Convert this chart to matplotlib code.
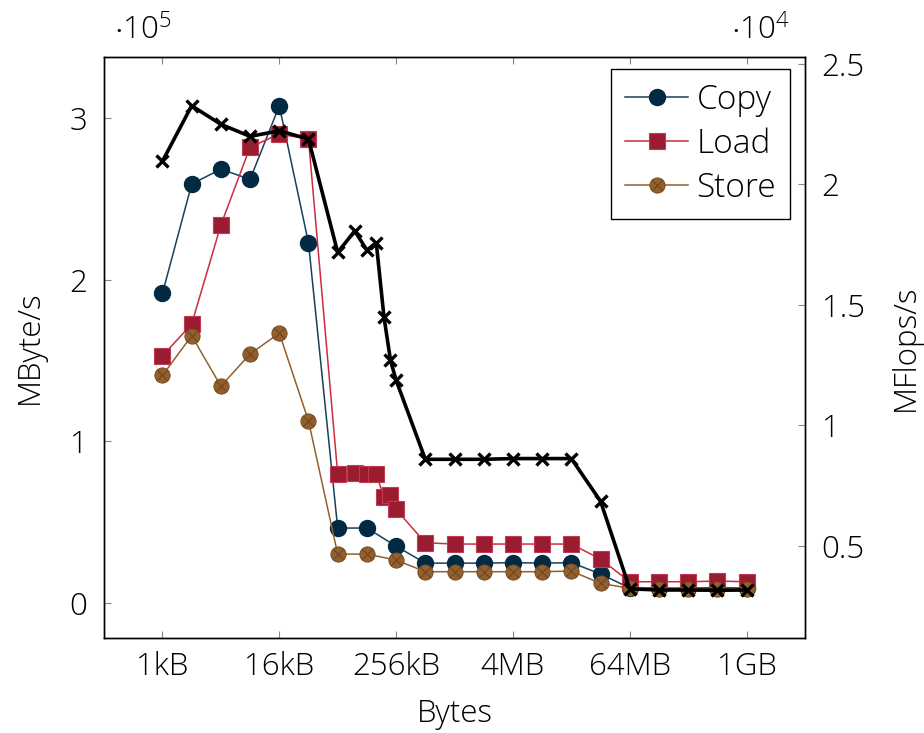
import numpy as np
import matplotlib
matplotlib.use("Agg")
import matplotlib.pyplot as plt
from matplotlib.ticker import FixedLocator, FuncFormatter, NullLocator
from matplotlib.legend_handler import HandlerTuple

plt.rcParams['font.family'] = ['Open Sans', 'DejaVu Sans']
plt.rcParams['font.weight'] = 'light'
plt.rcParams['axes.labelweight'] = 'light'
plt.rcParams['mathtext.fontset'] = 'custom'
plt.rcParams['mathtext.rm'] = 'Open Sans:light'
plt.rcParams['mathtext.it'] = 'Open Sans:light'

# %% data
kB = 1024
pow2_sizes = [kB * 2**i for i in range(21)]          # 1kB .. 1GB
fine_sizes = [1, 2, 4, 8, 16, 32, 64, 96, 128, 160, 192, 224, 256]
fine_sizes = [s * kB for s in fine_sizes] + [kB * 2**i for i in range(9, 21)]

copy_bw = np.array([1.915, 2.591, 2.684, 2.620, 3.075, 2.228, 0.464, 0.464, 0.352,
                    0.247, 0.247, 0.247, 0.250, 0.247, 0.250, 0.180,
                    0.093, 0.093, 0.093, 0.095, 0.093]) * 1e5
store_bw = np.array([1.408, 1.653, 1.342, 1.540, 1.670, 1.127, 0.303, 0.303, 0.266,
                     0.194, 0.194, 0.194, 0.194, 0.194, 0.198, 0.122,
                     0.091, 0.087, 0.087, 0.087, 0.087]) * 1e5
load_bw = np.array([1.529, 1.725, 2.338, 2.820, 2.900, 2.870, 0.798, 0.802, 0.798,
                    0.798, 0.654, 0.668, 0.579, 0.373, 0.365, 0.365, 0.365, 0.365,
                    0.365, 0.272, 0.132, 0.132, 0.132, 0.136, 0.132]) * 1e5
mflops = np.array([2.095, 2.325, 2.248, 2.198, 2.221, 2.187, 1.717, 1.806, 1.726,
                   1.756, 1.449, 1.270, 1.187, 0.859, 0.859, 0.859, 0.862, 0.862,
                   0.862, 0.685, 0.322, 0.317, 0.317, 0.316, 0.317]) * 1e4

xtick_pos = [kB * 2**i for i in range(0, 21, 4)]
xtick_lab = ['1kB', '16kB', '256kB', '4MB', '64MB', '1GB']

# %% plot
fig = plt.figure(figsize=(9.24, 7.33), dpi=100)
ax = fig.add_axes([0.1126, 0.1296, 0.7586, 0.7926])
ax2 = ax.twinx()

navy = '#022a43'
red_fill, red_line = '#9b1b30', '#cc2a45'
brown_fill, brown_line = '#93602d', '#6e4520'
fs = 22.5

h_copy, = ax.plot(pow2_sizes, copy_bw, color='#16405c', lw=1.1, marker='o', ms=11.5,
                  mfc=navy, mec=navy)
h_load, = ax.plot(fine_sizes, load_bw, color=red_line, lw=1.1, marker='s', ms=11,
                  mfc=red_fill, mec='#c23a52', mew=0.8)
h_store, = ax.plot(pow2_sizes, store_bw, color=brown_fill, lw=1.1, marker='o', ms=11,
                   mfc=brown_fill, mec=brown_line, mew=0.6)
h_store_x, = ax.plot(pow2_sizes, store_bw, ls='none', marker='x', ms=7.5,
                     mec=brown_line, mew=0.8)

ax2.plot(fine_sizes, mflops, color='black', lw=2.6, marker='x', ms=9, mew=2.4)

ax.set_xscale('log', base=2)
ax.set_xlim(2**8, 2**32)
ax.xaxis.set_major_locator(FixedLocator(xtick_pos))
ax.xaxis.set_minor_locator(NullLocator())
ax.set_xticklabels(xtick_lab)

ax.set_ylim(-0.216e5, 3.377e5)
ax.set_yticks([0, 1e5, 2e5, 3e5])
ax.yaxis.set_major_formatter(FuncFormatter(lambda v, p: f'{v / 1e5:g}'))
ax2.set_ylim(0.118e4, 2.527e4)
ax2.set_yticks([0.5e4, 1e4, 1.5e4, 2e4, 2.5e4])
ax2.yaxis.set_major_formatter(FuncFormatter(lambda v, p: f'{v / 1e4:g}'))

ax.tick_params(axis='x', which='both', direction='in', top=True, length=5,
               color='#888888', labelsize=fs, pad=9)
ax.tick_params(axis='y', direction='in', length=5, color='#888888', labelsize=fs, pad=12)
ax2.tick_params(axis='y', direction='in', length=5, color='#888888', labelsize=fs, pad=12)
for a in (ax, ax2):
    for s in a.spines.values():
        s.set_linewidth(1.0)

ax.set_xlabel('Bytes', fontsize=fs, labelpad=11)
ax.set_ylabel('MByte/s', fontsize=fs, labelpad=17)
ax2.set_ylabel('MFlops/s', fontsize=fs, labelpad=18)

fig.text(0.155, 0.957, r'$\cdot 10^5$', fontsize=fs, ha='center', va='center')
fig.text(0.823, 0.957, r'$\cdot 10^4$', fontsize=fs, ha='center', va='center')

leg = ax.legend([h_copy, h_load, (h_store, h_store_x)], ['Copy', 'Load', 'Store'],
                handler_map={tuple: HandlerTuple(ndivide=1, pad=0)},
                loc='upper right', bbox_to_anchor=(0.979, 0.979), borderaxespad=0,
                fontsize=24, fancybox=False, edgecolor='black', framealpha=1,
                handlelength=1.9, handletextpad=0.25, labelspacing=0.32,
                borderpad=0.42)
leg.get_frame().set_linewidth(1.0)
leg.set_zorder(10)

fig.savefig('out.png', dpi=100)
